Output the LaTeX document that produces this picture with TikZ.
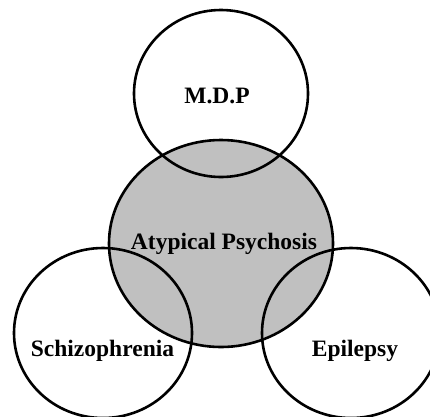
\documentclass[tikz,border=0pt]{standalone}
\usepackage{fontspec}
\setmainfont{Liberation Serif}
\usetikzlibrary{shapes.geometric}
\definecolor{apgray}{RGB}{192,192,192}
\begin{document}
\begin{tikzpicture}[x=1pt,y=-1pt,
  ring/.style={ellipse,draw=black,line width=2.6pt,inner sep=0pt,outer sep=0pt},
  lbl/.style={font=\fontsize{23.5}{26}\selectfont\bfseries,anchor=base,inner sep=0pt}]
\useasboundingbox (0,0) rectangle (430,416);
\clip (0,0) rectangle (430,416);
\node[ring,fill=apgray,minimum width=224pt,minimum height=207pt] (ap) at (221,243.5) {};
\node[ring,minimum width=174pt,minimum height=167pt] (mdp) at (221,93.5) {};
\node[ring,minimum width=178pt,minimum height=170pt] (sch) at (103,333) {};
\node[ring,minimum width=178pt,minimum height=170pt] (epi) at (351,333) {};
\node[lbl] (tmdp) at (217,103) {M.D.P};
\node[lbl] (tap) at (224,249) {Atypical Psychosis};
\node[lbl] (tsch) at (102.5,356) {Schizophrenia};
\node[lbl] (tepi) at (355,356) {Epilepsy};
\end{tikzpicture}
\end{document}
